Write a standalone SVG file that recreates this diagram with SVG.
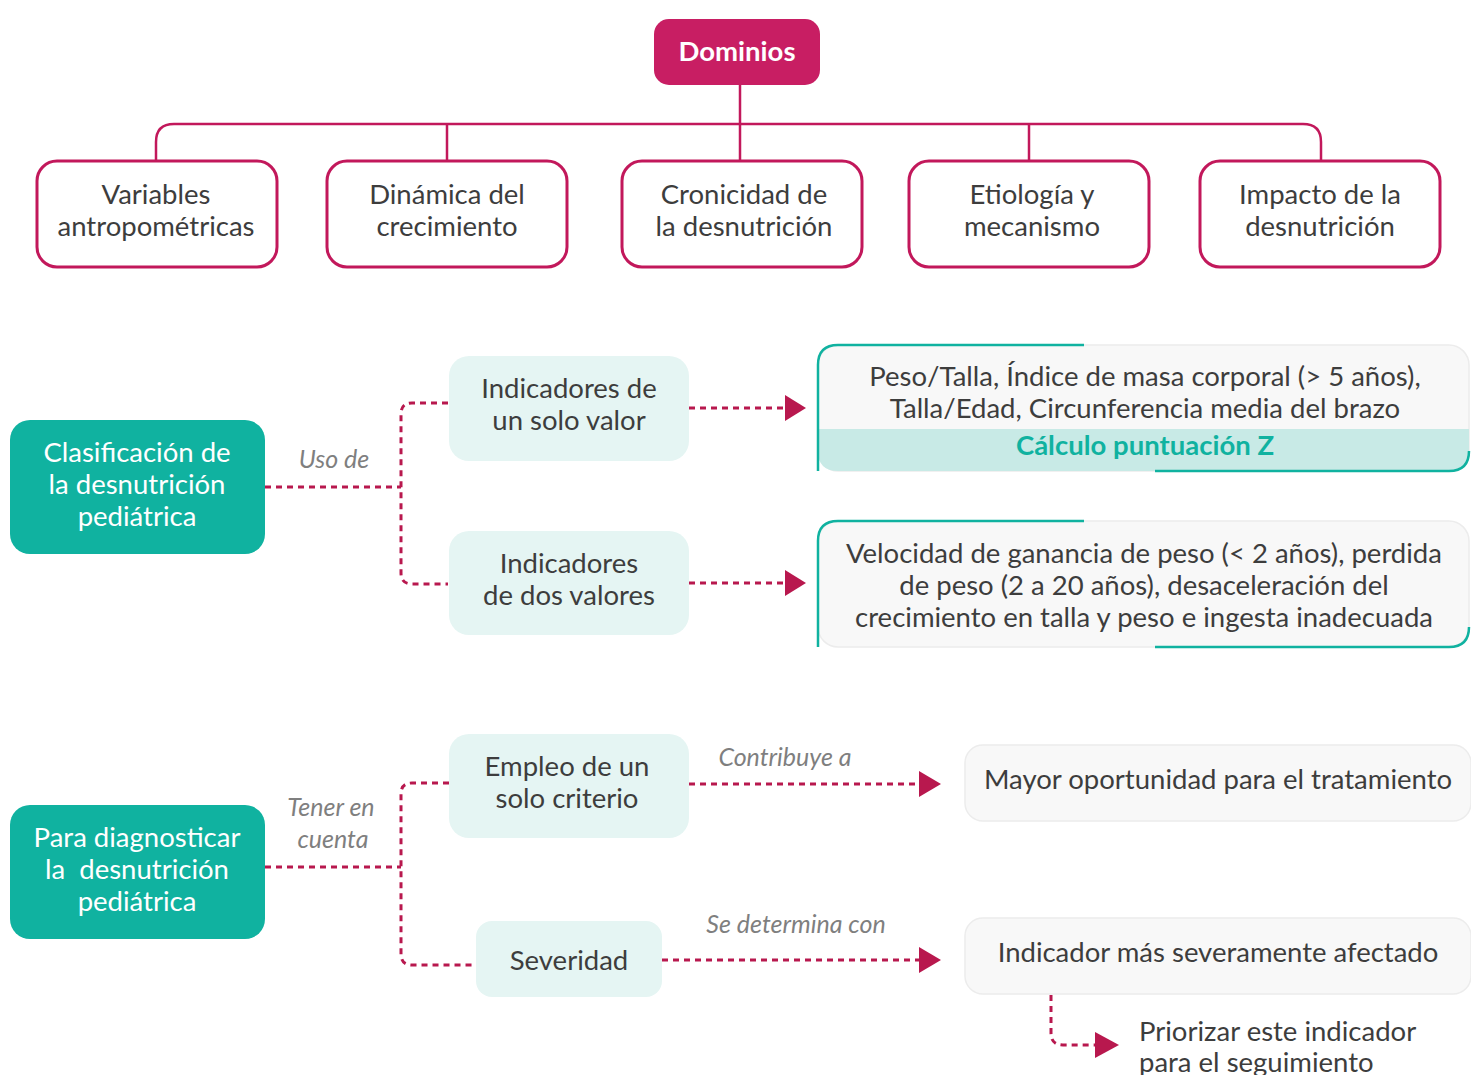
<svg xmlns="http://www.w3.org/2000/svg" width="1471" height="1075" viewBox="0 0 1471 1075">
<style>
text{font-family:Lato,"Liberation Sans",sans-serif;}
.t{font-size:27.5px;fill:#3d3d3d;text-anchor:middle;}
.w{font-size:27.5px;fill:#ffffff;text-anchor:middle;}
.lbl{font-size:25px;fill:#7f7f7f;font-style:italic;text-anchor:middle;}
.dom{fill:#ffffff;stroke:#c2185b;stroke-width:3;}
.teal{fill:#10b2a0;}
.lt{fill:#e5f5f3;}
.gr{fill:#f8f8f8;stroke:#ececec;stroke-width:1.5;}
.solid{fill:none;stroke:#c2185b;stroke-width:2.5;}
.dash{fill:none;stroke:#b8184e;stroke-width:3;stroke-dasharray:6 5;}
.acc{fill:none;stroke:#10b2a0;stroke-width:2.5;}
.ah{fill:#b8184e;}
</style>
<rect width="1471" height="1075" fill="#ffffff"/>

<g id="connectors">
<path class="solid" d="M156,161 V142 Q156,124 174,124 H1303 Q1321,124 1321,142 V161"/>
<path class="solid" d="M740,85 V161 M447,124 V161 M1029,124 V161"/>
<path class="dash" d="M265,487 H401 M448,403 H412 Q401,403 401,414 V573 Q401,584 412,584 H448"/>
<path class="dash" d="M689,408 H785 M689,583 H785"/>
<polygon class="ah" points="785,395 806,408 785,421"/>
<polygon class="ah" points="785,570 806,583 785,596"/>
<path class="dash" d="M265,867 H401 M449,783 H412 Q401,783 401,794 V954 Q401,965 412,965 H476"/>
<path class="dash" d="M689,784 H920 M662,960 H920"/>
<polygon class="ah" points="919,771 941,784 919,797"/>
<polygon class="ah" points="919,947 941,960 919,973"/>
<path class="dash" d="M1051,995 V1033 Q1051,1045 1063,1045 H1096"/>
<polygon class="ah" points="1095,1032 1119,1045 1095,1058"/>
<text class="lbl" x="334" y="468">Uso de</text>
<text class="lbl" x="331" y="816">Tener en</text>
<text class="lbl" x="333" y="848">cuenta</text>
<text class="lbl" x="785" y="766">Contribuye a</text>
<text class="lbl" x="796" y="933">Se determina con</text>
</g>

<g id="dominios">
<rect x="654" y="19" width="166" height="66" rx="15" fill="#c81e63"/>
<text class="w" x="737" y="61" style="font-weight:bold">Dominios</text>
</g>

<g id="variables">
<rect class="dom" x="37" y="161" width="240" height="106" rx="20"/>
<text class="t" x="156" y="204">Variables</text>
<text class="t" x="156" y="236">antropométricas</text>
</g>
<g id="dinamica">
<rect class="dom" x="327" y="161" width="240" height="106" rx="20"/>
<text class="t" x="447" y="204">Dinámica del</text>
<text class="t" x="447" y="236">crecimiento</text>
</g>
<g id="cronicidad">
<rect class="dom" x="622" y="161" width="240" height="106" rx="20"/>
<text class="t" x="744" y="204">Cronicidad de</text>
<text class="t" x="744" y="236">la desnutrición</text>
</g>
<g id="etiologia">
<rect class="dom" x="909" y="161" width="240" height="106" rx="20"/>
<text class="t" x="1032" y="204">Etiología y</text>
<text class="t" x="1032" y="236">mecanismo</text>
</g>
<g id="impacto">
<rect class="dom" x="1200" y="161" width="240" height="106" rx="20"/>
<text class="t" x="1320" y="204">Impacto de la</text>
<text class="t" x="1320" y="236">desnutrición</text>
</g>

<g id="clasificacion">
<rect class="teal" x="10" y="420" width="255" height="134" rx="20"/>
<text class="w" x="137" y="462">Clasificación de</text>
<text class="w" x="137" y="494">la desnutrición</text>
<text class="w" x="137" y="526">pediátrica</text>
</g>
<g id="un-solo-valor">
<rect class="lt" x="449" y="356" width="240" height="105" rx="20"/>
<text class="t" x="569" y="398">Indicadores de</text>
<text class="t" x="569" y="430">un solo valor</text>
</g>
<g id="dos-valores">
<rect class="lt" x="449" y="531" width="240" height="104" rx="20"/>
<text class="t" x="569" y="573">Indicadores</text>
<text class="t" x="569" y="605">de dos valores</text>
</g>
<g id="peso-talla">
<rect class="gr" x="818" y="345" width="651" height="126" rx="20"/>
<path d="M818,429 H1469 V451 Q1469,471 1449,471 H838 Q818,471 818,451 Z" fill="#c8eae6"/>
<path class="acc" d="M818,471 V365 Q818,345 838,345 H1084"/>
<path class="acc" d="M1155,471 H1449 Q1469,471 1469,451"/>
<text class="t" x="1145" y="386">Peso/Talla, Índice de masa corporal (&gt; 5 años),</text>
<text class="t" x="1145" y="418">Talla/Edad, Circunferencia media del brazo</text>
<text class="t" x="1145" y="455" style="fill:#10b2a0;font-weight:bold">Cálculo puntuación Z</text>
</g>
<g id="velocidad">
<rect class="gr" x="818" y="521" width="651" height="126" rx="20"/>
<path class="acc" d="M818,647 V541 Q818,521 838,521 H1084"/>
<path class="acc" d="M1155,647 H1449 Q1469,647 1469,627"/>
<text class="t" x="1144" y="563">Velocidad de ganancia de peso (&lt; 2 años), perdida</text>
<text class="t" x="1144" y="595">de peso (2 a 20 años), desaceleración del</text>
<text class="t" x="1144" y="627">crecimiento en talla y peso e ingesta inadecuada</text>
</g>

<g id="diagnosticar">
<rect class="teal" x="10" y="805" width="255" height="134" rx="20"/>
<text class="w" x="137" y="847">Para diagnosticar</text>
<text class="w" x="137" y="879" xml:space="preserve">la  desnutrición</text>
<text class="w" x="137" y="911">pediátrica</text>
</g>
<g id="empleo">
<rect class="lt" x="449" y="734" width="240" height="104" rx="20"/>
<text class="t" x="567" y="776">Empleo de un</text>
<text class="t" x="567" y="808">solo criterio</text>
</g>
<g id="severidad">
<rect class="lt" x="476" y="921" width="186" height="76" rx="16"/>
<text class="t" x="569" y="970">Severidad</text>
</g>
<g id="mayor-oportunidad">
<rect class="gr" x="965" y="745" width="506" height="76" rx="18"/>
<text class="t" x="1218" y="789">Mayor oportunidad para el tratamiento</text>
</g>
<g id="indicador-severo">
<rect class="gr" x="965" y="918" width="506" height="76" rx="18"/>
<text class="t" x="1218" y="962">Indicador más severamente afectado</text>
</g>
<g id="priorizar">
<text class="t" x="1139" y="1041" style="text-anchor:start">Priorizar este indicador</text>
<text class="t" x="1139" y="1072" style="text-anchor:start">para el seguimiento</text>
</g>
</svg>
